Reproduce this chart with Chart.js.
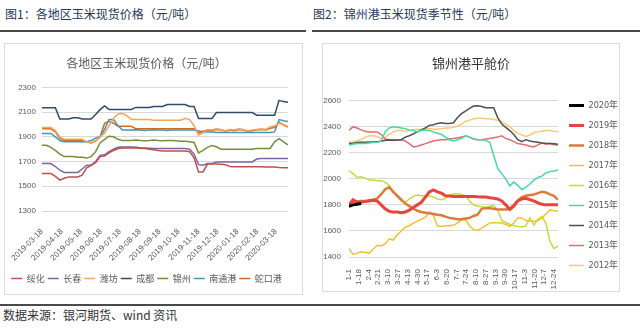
<!DOCTYPE html>
<html>
<head>
<meta charset="utf-8">
<script src="https://cdn.jsdelivr.net/npm/chart.js@4.4.1/dist/chart.umd.min.js"></script>
<style>
  body { margin: 0; width: 640px; height: 328px; position: relative; background: #fff; overflow: hidden; font-family: "Noto Sans CJK SC", sans-serif; }
  .hd { position: absolute; font-size: 12px; color: #24395a; white-space: nowrap; line-height: 14px; }
  .rule { position: absolute; height: 2px; background: #4a4a4a; }
  .box { position: absolute; box-sizing: border-box; border: 1px solid #dcdcdc; background: #fff; }
  .box canvas { position: absolute; left: 0; top: 0; }
  .ft { position: absolute; font-size: 12px; color: #333; white-space: nowrap; line-height: 14px; }
</style>
</head>
<body>
<div class="hd" style="left:5px;top:7px">图1：各地区玉米现货价格（元/吨）</div>
<div class="hd" style="left:313px;top:7px">图2：锦州港玉米现货季节性（元/吨）</div>
<div class="rule" style="left:0;top:30px;width:306px"></div>
<div class="rule" style="left:312px;top:30px;width:328px"></div>

<div class="box" style="left:4px;top:43px;width:299px;height:252px"><canvas id="priceChart" width="297" height="250"></canvas></div>
<div class="box" style="left:322px;top:43px;width:298px;height:249px"><canvas id="seasonChart" width="296" height="247"></canvas></div>

<div class="rule" style="left:0;top:304px;width:640px"></div>
<div class="ft" style="left:3px;top:308px">数据来源：银河期货、wind 资讯</div>

<script>
// 1. Regional spot prices, one value per week starting 2019-03-18
const cityNames = ["绥化", "长春", "潍坊", "成都", "锦州", "南通港", "蛇口港"];

const suihua = [1603, 1603, 1603, 1580, 1550, 1565, 1576, 1576, 1576, 1590, 1650, 1670, 1690, 1740, 1745, 1770,
  1790, 1805, 1810, 1810, 1810, 1810, 1808, 1805, 1800, 1795, 1790, 1785, 1785, 1785, 1785, 1785,
  1785, 1780, 1730, 1616, 1616, 1680, 1680, 1680, 1678, 1675, 1660, 1657, 1657, 1657, 1657, 1657,
  1657, 1657, 1655, 1655, 1655, 1652, 1650, 1650];
const changchun = [1684, 1684, 1684, 1660, 1630, 1612, 1612, 1612, 1612, 1640, 1670, 1672, 1700, 1750, 1755, 1780,
  1800, 1815, 1818, 1818, 1818, 1815, 1812, 1810, 1808, 1806, 1805, 1805, 1805, 1805, 1805, 1805,
  1805, 1800, 1760, 1675, 1670, 1684, 1684, 1697, 1697, 1697, 1697, 1697, 1697, 1697, 1697, 1697,
  1720, 1725, 1725, 1725, 1725, 1725, 1725, 1725];
const weifang = [1975, 1975, 1975, 1950, 1900, 1880, 1880, 1880, 1880, 1880, 1860, 1855, 1870, 1900, 1930, 1990,
  2050, 2085, 2090, 2070, 2040, 2040, 2040, 2040, 2040, 2035, 2035, 2035, 2035, 2035, 2035, 2035,
  2050, 2040, 1990, 1915, 1930, 1960, 1955, 1965, 1960, 1950, 1960, 1955, 1965, 1960, 1950, 1955,
  1960, 1965, 1960, 1980, 1990, 2010, 2000, 1985];
const chengdu = [2135, 2135, 2135, 2135, 2045, 2045, 2045, 2055, 2055, 2045, 2045, 2045, 2080, 2120, 2150, 2122,
  2122, 2122, 2122, 2122, 2122, 2138, 2138, 2138, 2138, 2146, 2146, 2146, 2162, 2162, 2162, 2162,
  2162, 2146, 2146, 2048, 2048, 2048, 2048, 2097, 2097, 2097, 2097, 2097, 2097, 2097, 2097, 2097,
  2075, 2075, 2075, 2075, 2075, 2195, 2185, 2180];
const jinzhou = [1832, 1832, 1815, 1790, 1760, 1740, 1740, 1740, 1735, 1735, 1728, 1740, 1780, 1850, 1880, 1905,
  1900, 1880, 1870, 1870, 1870, 1875, 1870, 1868, 1870, 1875, 1870, 1868, 1870, 1870, 1868, 1865,
  1865, 1860, 1855, 1770, 1790, 1815, 1830, 1820, 1800, 1800, 1800, 1800, 1800, 1800, 1800, 1800,
  1806, 1806, 1806, 1806, 1860, 1885, 1860, 1835];
const nantong = [1927, 1927, 1927, 1900, 1870, 1860, 1860, 1860, 1860, 1860, 1860, 1870, 1890, 1900, 1960, 2040,
  2040, 1990, 1955, 1955, 1955, 1958, 1955, 1952, 1955, 1958, 1955, 1955, 1952, 1955, 1955, 1955,
  1955, 1955, 1955, 1950, 1940, 1940, 1940, 1935, 1935, 1935, 1935, 1935, 1935, 1935, 1935, 1935,
  1935, 1935, 1935, 1935, 1940, 2040, 2030, 2025];
const shekou = [1965, 1965, 1965, 1940, 1890, 1870, 1870, 1870, 1870, 1870, 1860, 1850, 1865, 1900, 2010, 2025,
  2010, 1985, 1985, 1985, 1985, 1965, 1965, 1965, 1965, 1965, 1965, 1965, 1965, 1965, 1965, 1965,
  1965, 1965, 1965, 1930, 1945, 1955, 1950, 1960, 1955, 1945, 1955, 1950, 1960, 1955, 1945, 1950,
  1955, 1960, 1955, 1970, 1975, 2020, 1995, 1980];

const cityColors = ["#c0504d", "#8064a2", "#f7a55a", "#2f4a6b", "#72903a", "#3f98b8", "#d8691c"];

// x axis ticks: day offset from 2019-03-18 and the label shown there
const monthTicks = [0, 31, 61, 92, 122, 153, 184, 214, 245, 275, 306, 337, 366];
const monthLabels = ["2019-03-18", "2019-04-18", "2019-05-18", "2019-06-18", "2019-07-18", "2019-08-18",
  "2019-09-18", "2019-10-18", "2019-11-18", "2019-12-18", "2020-01-18", "2020-02-18", "2020-03-18"];
const priceTicks = [1300, 1400, 1500, 1600, 1700, 1800, 1900, 2000, 2100, 2200, 2300];

// 2. Jinzhou port seasonal prices, one value per week from Jan 1
const seasonYears = ["2020年", "2019年", "2018年", "2017年", "2016年", "2015年", "2014年", "2013年", "2012年"];

const y2020 = [1788, 1800, 1805, 1810];
const y2019 = [1800, 1840, 1820, 1820, 1825, 1830, 1835, 1830, 1800, 1770, 1750, 1745, 1745, 1740, 1745, 1760,
  1780, 1800, 1820, 1860, 1900, 1915, 1900, 1890, 1870, 1868, 1865, 1865, 1865, 1865, 1865, 1865,
  1862, 1860, 1860, 1855, 1850, 1845, 1830, 1800, 1765, 1790, 1830, 1845, 1850, 1840, 1830, 1815,
  1805, 1800, 1800, 1800, 1800];
const y2018 = [1810, 1820, 1825, 1830, 1830, 1835, 1840, 1850, 1880, 1920, 1935, 1900, 1870, 1840, 1810, 1790,
  1770, 1755, 1745, 1740, 1735, 1730, 1725, 1720, 1710, 1700, 1695, 1690, 1690, 1695, 1700, 1715,
  1725, 1770, 1775, 1775, 1770, 1765, 1765, 1765, 1770, 1800, 1830, 1860, 1870, 1875, 1880, 1890,
  1900, 1895, 1880, 1870, 1840];
const y2017 = [1465, 1420, 1430, 1440, 1435, 1430, 1460, 1490, 1485, 1500, 1540, 1530, 1570, 1600, 1630, 1640,
  1660, 1675, 1690, 1705, 1745, 1720, 1640, 1635, 1640, 1640, 1645, 1660, 1685, 1686, 1640, 1610,
  1605, 1620, 1640, 1660, 1665, 1663, 1660, 1650, 1635, 1660, 1700, 1700, 1680, 1675, 1675, 1680,
  1700, 1730, 1762, 1755, 1750];
const y2016 = [2060, 2040, 2010, 2015, 2005, 1990, 1990, 1985, 1985, 1975, 1950, 1905, 1860, 1830, 1820, 1845,
  1865, 1875, 1870, 1870, 1868, 1860, 1845, 1840, 1850, 1870, 1885, 1885, 1880, 1870, 1830, 1800,
  1790, 1785, 1780, 1790, 1795, 1760, 1680, 1665, 1650, 1640, 1635, 1630, 1640, 1700, 1645, 1690,
  1710, 1660, 1520, 1465, 1485];
const y2015 = [2260, 2265, 2270, 2270, 2270, 2275, 2278, 2280, 2290, 2360, 2390, 2400, 2395, 2390, 2385, 2375,
  2370, 2360, 2370, 2375, 2370, 2360, 2350, 2340, 2320, 2300, 2290, 2300, 2310, 2330, 2320, 2305,
  2300, 2300, 2295, 2280, 2180, 2080, 2040, 2000, 1945, 1975, 1950, 1916, 1935, 1960, 1990, 2010,
  2020, 2045, 2055, 2060, 2068];
const y2014 = [2270, 2272, 2278, 2280, 2280, 2282, 2282, 2285, 2288, 2295, 2298, 2295, 2298, 2300, 2320, 2330,
  2345, 2360, 2375, 2390, 2410, 2415, 2425, 2430, 2425, 2425, 2430, 2470, 2500, 2520, 2540, 2558,
  2560, 2555, 2546, 2546, 2546, 2470, 2420, 2395, 2370, 2340, 2300, 2285, 2300, 2290, 2285, 2280,
  2275, 2272, 2270, 2268, 2265];
const y2013 = [2370, 2400, 2390, 2375, 2365, 2360, 2360, 2360, 2340, 2305, 2300, 2300, 2295, 2300, 2290, 2270,
  2245, 2250, 2260, 2270, 2280, 2290, 2295, 2300, 2300, 2305, 2310, 2315, 2320, 2330, 2320, 2305,
  2300, 2300, 2305, 2310, 2315, 2320, 2330, 2310, 2300, 2285, 2270, 2265, 2260, 2250, 2245, 2260,
  2275, 2265, 2270, 2262, 2260];
const y2012 = [2280, 2285, 2290, 2300, 2320, 2330, 2330, 2325, 2310, 2320, 2340, 2360, 2370, 2370, 2365, 2370,
  2375, 2380, 2380, 2385, 2385, 2380, 2380, 2385, 2390, 2390, 2395, 2405, 2420, 2440, 2450, 2460,
  2465, 2465, 2460, 2460, 2455, 2450, 2440, 2420, 2400, 2370, 2350, 2335, 2325, 2335, 2355, 2360,
  2365, 2370, 2370, 2365, 2362];

const yearColors = ["#000000", "#e8453a", "#dd7a3c", "#f2c230", "#c4dc34", "#45d9a6", "#505050", "#e26d6d", "#fbc878"];
const yearWidths = [3, 3, 2.5, 1.5, 1.5, 1.5, 1.5, 1.5, 1.5];

// x axis ticks: day of year and label
const dayTicks = [0, 17, 34, 51, 68, 85, 102, 119, 136, 153, 170, 187, 204, 221, 238, 255, 272, 289, 306, 323, 340, 357];
const dayLabels = ["1-1", "1-18", "2-4", "2-21", "3-10", "3-27", "4-13", "4-30", "5-17", "6-3", "6-20", "7-7",
  "7-24", "8-10", "8-27", "9-13", "9-30", "10-17", "11-3", "11-20", "12-7", "12-24"];
const seasonTicks = [1400, 1600, 1800, 2000, 2200, 2400, 2600];

// both series sets are sampled weekly
const weekStep = 7;
function toPoints(values) {
  return values.map((v, i) => ({ x: i * weekStep, y: v }));
}

const tickFont = { family: "'Liberation Sans', 'Noto Sans CJK SC'", size: 8 };
const tickColor = "#595959";

// 3. Regional price chart
const cityData = [suihua, changchun, weifang, chengdu, jinzhou, nantong, shekou];

const priceChart = new Chart(document.getElementById("priceChart"), {
  type: "line",
  data: {
    datasets: cityNames.map((name, i) => ({
      label: name,
      data: toPoints(cityData[i]),
      borderColor: cityColors[i],
      backgroundColor: cityColors[i],
      borderWidth: 1.5,
      pointRadius: 0,
      tension: 0
    }))
  },
  options: {
    responsive: false,
    animation: false,
    layout: { padding: { left: 0, right: 14, top: 0, bottom: 1 } },
    plugins: {
      title: {
        display: true,
        text: "各地区玉米现货价格（元/吨）",
        color: "#595959",
        font: { family: "'Noto Sans CJK SC'", size: 12, weight: "normal" },
        padding: { top: 12, bottom: 17 }
      },
      legend: {
        position: "bottom",
        labels: {
          usePointStyle: true,
          pointStyle: "line",
          pointStyleWidth: 11,
          boxWidth: 11,
          padding: 3,
          color: tickColor,
          font: { family: "'Noto Sans CJK SC'", size: 9 }
        }
      },
      tooltip: { enabled: false }
    },
    scales: {
      x: {
        type: "linear",
        min: 0,
        max: 385,
        grid: { display: false },
        border: { display: false },
        afterBuildTicks: axis => { axis.ticks = monthTicks.map(v => ({ value: v })); },
        afterFit: axis => { axis.height = 60; },
        ticks: {
          autoSkip: false,
          minRotation: 45,
          maxRotation: 45,
          padding: 8,
          color: tickColor,
          font: tickFont,
          callback: (value, index) => monthLabels[index]
        }
      },
      y: {
        min: 1300,
        max: 2300,
        border: { display: false },
        grid: { color: "#d9d9d9", drawTicks: false },
        afterBuildTicks: axis => { axis.ticks = priceTicks.map(v => ({ value: v })); },
        afterFit: axis => { axis.width = 32; },
        ticks: { padding: 6, color: tickColor, font: tickFont, callback: value => String(value) }
      }
    }
  }
});

// 4. Seasonal chart for Jinzhou port
const yearData = [y2020, y2019, y2018, y2017, y2016, y2015, y2014, y2013, y2012];

const seasonChart = new Chart(document.getElementById("seasonChart"), {
  type: "line",
  data: {
    datasets: seasonYears.map((name, i) => ({
      label: name,
      data: toPoints(yearData[i]),
      borderColor: yearColors[i],
      backgroundColor: yearColors[i],
      borderWidth: yearWidths[i],
      pointRadius: 0,
      tension: 0,
      order: i
    }))
  },
  options: {
    responsive: false,
    animation: false,
    layout: { padding: { left: 0, right: 0, top: 0, bottom: 0 } },
    plugins: {
      title: {
        display: true,
        text: "锦州港平舱价",
        color: "#333333",
        font: { family: "'Noto Sans CJK SC'", size: 13, weight: "normal" },
        padding: { top: 11, bottom: 30 }
      },
      legend: {
        position: "right",
        align: "start",
        maxWidth: 61,
        // empty legend title only pushes the year list down to the plot top
        title: { display: true, text: " ", font: { size: 10 }, padding: { top: 34, bottom: 0 } },
        labels: {
          usePointStyle: true,
          pointStyle: "line",
          pointStyleWidth: 15,
          boxWidth: 15,
          padding: 11,
          color: tickColor,
          font: { family: "'DejaVu Sans Condensed', 'Noto Sans CJK SC'", size: 9 }
        }
      },
      tooltip: { enabled: false }
    },
    scales: {
      x: {
        type: "linear",
        min: 0,
        max: 364,
        grid: { display: false },
        border: { display: false },
        afterBuildTicks: axis => { axis.ticks = dayTicks.map(v => ({ value: v })); },
        afterFit: axis => { axis.height = 34; },
        ticks: {
          autoSkip: false,
          minRotation: 90,
          maxRotation: 90,
          padding: 4,
          color: tickColor,
          font: tickFont,
          callback: (value, index) => dayLabels[index]
        }
      },
      y: {
        min: 1400,
        max: 2600,
        border: { display: false },
        grid: { color: "#d9d9d9", drawTicks: false },
        afterBuildTicks: axis => { axis.ticks = seasonTicks.map(v => ({ value: v })); },
        afterFit: axis => { axis.width = 26; },
        ticks: { padding: 8, color: tickColor, font: tickFont, callback: value => String(value) }
      }
    }
  }
});
</script>
</body>
</html>
